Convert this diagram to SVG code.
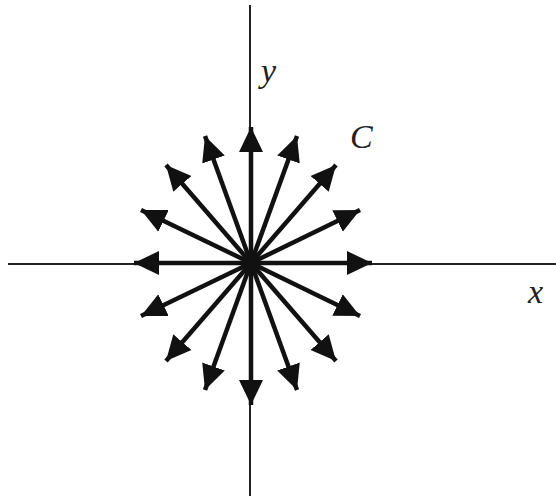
<svg xmlns="http://www.w3.org/2000/svg" width="556" height="496" viewBox="0 0 556 496">
<style>
.axis{stroke:#222;stroke-width:2;fill:none}
.vec{stroke:#111;stroke-width:4.5;fill:none;marker-end:url(#ah)}
.lbl{font-family:"Liberation Serif",serif;font-style:italic;font-size:34px;fill:#222}
</style>
<defs>
<marker id="ah" markerUnits="userSpaceOnUse" markerWidth="28" markerHeight="28" viewBox="0 0 28 28" refX="25" refY="14" orient="auto">
<path d="M0,2 L25,14 L0,26 Z" fill="#111"/>
</marker>
</defs>
<g id="axes">
<line class="axis" x1="250" y1="5" x2="250" y2="496"/>
<line class="axis" x1="8" y1="264" x2="556" y2="264"/>
</g>
<g id="connectors">
<line class="vec" x1="251" y1="263" x2="372" y2="263"/>
<line class="vec" x1="251" y1="263" x2="360" y2="210"/>
<line class="vec" x1="251" y1="263" x2="336" y2="165"/>
<line class="vec" x1="251" y1="263" x2="297" y2="136"/>
<line class="vec" x1="251" y1="263" x2="251" y2="127"/>
<line class="vec" x1="251" y1="263" x2="205" y2="136"/>
<line class="vec" x1="251" y1="263" x2="166" y2="165"/>
<line class="vec" x1="251" y1="263" x2="141" y2="210"/>
<line class="vec" x1="251" y1="263" x2="134" y2="263"/>
<line class="vec" x1="251" y1="263" x2="141" y2="316"/>
<line class="vec" x1="251" y1="263" x2="166" y2="361"/>
<line class="vec" x1="251" y1="263" x2="205" y2="390"/>
<line class="vec" x1="251" y1="263" x2="251" y2="405"/>
<line class="vec" x1="251" y1="263" x2="297" y2="390"/>
<line class="vec" x1="251" y1="263" x2="336" y2="361"/>
<line class="vec" x1="251" y1="263" x2="360" y2="316"/>
<circle cx="251" cy="263" r="6" fill="#111"/>
</g>
<g id="labels">
<text class="lbl" x="261" y="82">y</text>
<text class="lbl" x="350" y="148">C</text>
<text class="lbl" x="528" y="303">x</text>
</g>
</svg>
